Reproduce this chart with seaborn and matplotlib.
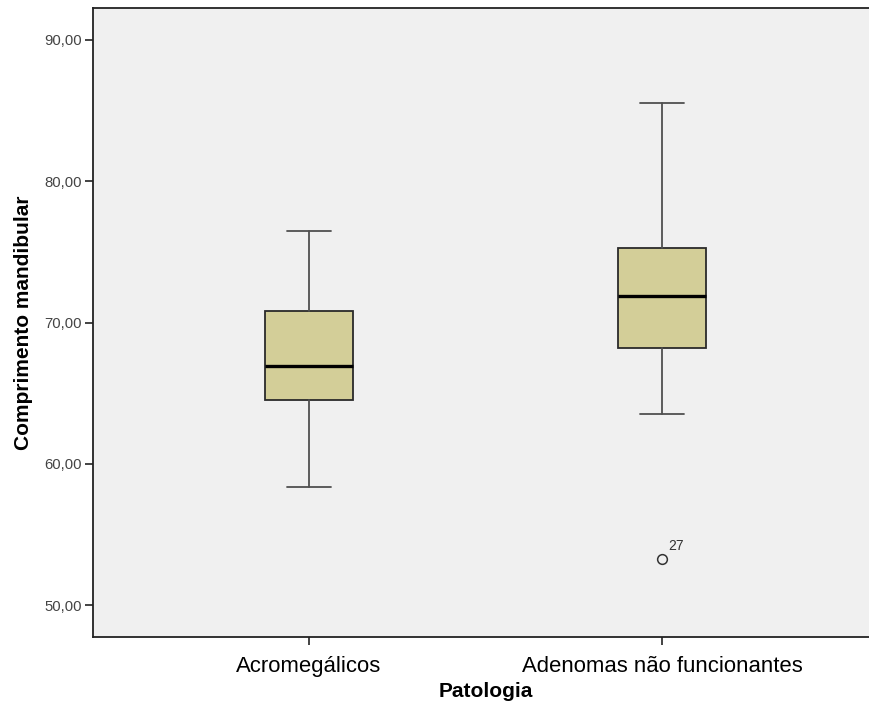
import matplotlib
matplotlib.use("Agg")
import matplotlib.pyplot as plt
import seaborn as sns

# Data
categories = ["Acromegálicos", "Adenomas não funcionantes"]
whisker_low = [58.37, 63.54]
q1 = [64.55, 68.16]
median = [66.89, 71.91]
q3 = [70.78, 75.26]
whisker_high = [76.46, 85.54]
outliers = [[], [53.26]]
outlier_labels = [[], ["27"]]
y_ticks = [50, 60, 70, 80, 90]
y_ticklabels = ["50,00", "60,00", "70,00", "80,00", "90,00"]

sns.set_style("ticks", {"axes.facecolor": "#F0F0F0"})
plt.rcParams["font.family"] = ["Liberation Sans", "DejaVu Sans"]

fig = plt.figure(figsize=(8.69, 7.04), dpi=100)
ax = fig.add_axes([93 / 869, 67 / 704, 785 / 869, 629 / 704])
ax.set_facecolor("#F0F0F0")

stats = []
for i, c in enumerate(categories):
    stats.append(dict(label=c, whislo=whisker_low[i], q1=q1[i], med=median[i],
                      q3=q3[i], whishi=whisker_high[i], fliers=outliers[i]))

positions = list(range(len(categories)))
ax.bxp(stats, positions=positions, widths=0.25, patch_artist=True,
       boxprops=dict(facecolor="#D3CE98", edgecolor="#2a2a2a", linewidth=1.3),
       medianprops=dict(color="black", linewidth=2.4),
       whiskerprops=dict(color="#505050", linewidth=1.3),
       capprops=dict(color="#505050", linewidth=1.3),
       capwidths=0.125,
       flierprops=dict(marker="o", markersize=7, markerfacecolor="none",
                       markeredgecolor="#333333", markeredgewidth=1.1))

for i, labs in enumerate(outlier_labels):
    for v, lab in zip(outliers[i], labs):
        ax.annotate(lab, (positions[i], v), xytext=(4.5, 4), textcoords="offset points",
                    fontsize=10, color="#333333", ha="left", va="bottom")

ax.set_xlim(-0.612, 1.612)
ax.set_ylim(47.74, 92.26)
ax.set_yticks(y_ticks)
ax.set_yticklabels(y_ticklabels, fontsize=10.7, color="#444444")
ax.set_xticks(positions)
ax.set_xticklabels(categories, fontsize=15.9, color="black")
ax.tick_params(axis="both", direction="out", length=6, width=1.2, color="#222222")
ax.tick_params(axis="y", pad=2)
ax.tick_params(axis="x", pad=8)

for s in ax.spines.values():
    s.set_visible(True)
    s.set_color("#222222")
    s.set_linewidth(1.3)

ax.set_xlabel("Patologia", fontsize=15, fontweight="bold", labelpad=3, color="black")
ax.set_ylabel("Comprimento mandibular", fontsize=15, fontweight="bold", labelpad=8, color="black")

fig.savefig("out.png", dpi=100)
